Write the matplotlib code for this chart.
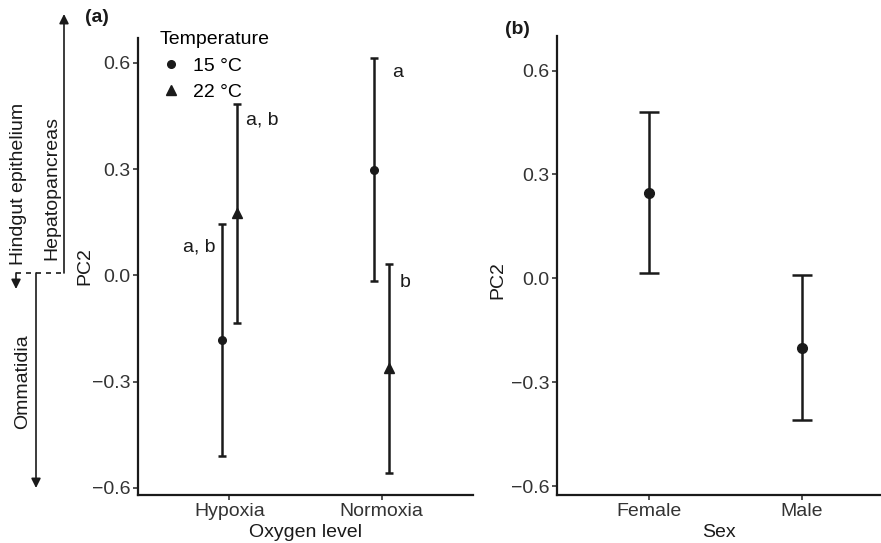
import numpy as np
import matplotlib.pyplot as plt
from matplotlib.lines import Line2D

plt.rcParams['font.family'] = ['Liberation Sans', 'DejaVu Sans']

# panel (a): PC2 by oxygen level and temperature
oxygen = ['Hypoxia', 'Normoxia']
temps = ['15 °C', '22 °C']
mean_15 = [-0.182, 0.298]
low_15 = [-0.510, -0.016]
high_15 = [0.145, 0.614]
mean_22 = [0.177, -0.261]
low_22 = [-0.134, -0.558]
high_22 = [0.484, 0.032]
letters = ['a, b', 'a, b', 'a', 'b']

# panel (b): PC2 by sex
sex = ['Female', 'Male']
mean_sex = [0.247, -0.200]
low_sex = [0.016, -0.410]
high_sex = [0.481, 0.010]

ink = '#1a1a1a'
fs = 14

fig = plt.figure(figsize=(8.81, 5.43), dpi=100)
ax1 = fig.add_axes([138 / 881, 1 - 495 / 543, (473 - 138) / 881, (495 - 38) / 543])
ax2 = fig.add_axes([557 / 881, 1 - 495 / 543, (881 - 557) / 881, (495 - 36) / 543])

x = np.arange(1, len(oxygen) + 1)
dodge = 0.05
for xs, m, lo, hi, mk, ms in [(x - dodge, mean_15, low_15, high_15, 'o', 5.5),
                              (x + dodge, mean_22, low_22, high_22, '^', 6.5)]:
    m = np.array(m)
    err = [m - np.array(lo), np.array(hi) - m]
    ax1.errorbar(xs, m, yerr=err, fmt=mk, color=ink, ms=ms, lw=1.8,
                 capsize=3, capthick=1.8)

# significance letters
ax1.text(1.112, 0.439, letters[0], fontsize=fs, ha='left', va='center', color=ink)
ax1.text(0.908, 0.080, letters[1], fontsize=fs, ha='right', va='center', color=ink)
ax1.text(2.072, 0.572, letters[2], fontsize=fs, ha='left', va='center', color=ink)
ax1.text(2.118, -0.021, letters[3], fontsize=fs, ha='left', va='center', color=ink)

ax1.set_xlim(0.4, 2.6)
ax1.set_ylim(-0.62, 0.67)
ax1.set_xticks(x)
ax1.set_xticklabels(oxygen)
ax1.set_xlabel('Oxygen level', fontsize=fs, color=ink, labelpad=3)
ax1.set_ylabel('PC2', fontsize=fs, color=ink)
ax1.yaxis.set_label_coords((93 - 138) / (473 - 138), 0.5)

# legend
handles = [Line2D([], [], marker='o', ls='none', color=ink, ms=5.5),
           Line2D([], [], marker='^', ls='none', color=ink, ms=6.5)]
leg = ax1.legend(handles, temps, title='Temperature', loc='upper left',
                 bbox_to_anchor=(0.03, 1.04), frameon=False, fontsize=fs,
                 title_fontsize=fs, handletextpad=0.5, labelspacing=0.45,
                 handlelength=1.2, borderaxespad=0, borderpad=0.6)
leg._legend_box.align = 'left'

ax2.errorbar(np.arange(1, 3), mean_sex,
             yerr=[np.array(mean_sex) - np.array(low_sex), np.array(high_sex) - np.array(mean_sex)],
             fmt='o', color=ink, ms=7, lw=1.8, capsize=7, capthick=1.8)
ax2.set_xlim(0.4, 2.52)
ax2.set_ylim(-0.626, 0.70)
ax2.set_xticks([1, 2])
ax2.set_xticklabels(sex)
ax2.set_xlabel('Sex', fontsize=fs, color=ink, labelpad=3)
ax2.set_ylabel('PC2', fontsize=fs, color=ink)
ax2.yaxis.set_label_coords((506 - 557) / (881 - 557), (495 - 280) / (495 - 36))

for ax in (ax1, ax2):
    ax.set_yticks([-0.6, -0.3, 0.0, 0.3, 0.6])
    ax.set_yticklabels(['\u22120.6', '\u22120.3', '0.0', '0.3', '0.6'])
    ax.spines['top'].set_visible(False)
    ax.spines['right'].set_visible(False)
    for s in ('left', 'bottom'):
        ax.spines[s].set_linewidth(1.6)
        ax.spines[s].set_color(ink)
    ax.tick_params(labelsize=fs, colors='#333333', length=3.5, width=1.2, pad=2)
    for lab in ax.get_xticklabels() + ax.get_yticklabels():
        lab.set_color('#333333')

fig.text(97 / 881, 1 - 18 / 543, '(a)', fontsize=14, fontweight='bold', ha='center', va='center', color=ink)
fig.text(517 / 881, 1 - 30 / 543, '(b)', fontsize=14, fontweight='bold', ha='center', va='center', color=ink)

# tissue direction arrows on the left
def fp(px, py):
    return (px, 543 - py)

arrow_kw = dict(xycoords='figure pixels', textcoords='figure pixels',
                arrowprops=dict(arrowstyle='-|>', color=ink, lw=1.2, mutation_scale=14,
                                shrinkA=0, shrinkB=0))
ax1.annotate('', xy=fp(64, 14), xytext=fp(64, 273), **arrow_kw)
ax1.annotate('', xy=fp(36, 488), xytext=fp(36, 273), **arrow_kw)
ax1.annotate('', xy=fp(16, 289), xytext=fp(16, 273), **arrow_kw)
fig.add_artist(Line2D([16 / 881, 64 / 881], [1 - 273 / 543, 1 - 273 / 543],
                      ls=(0, (3, 3)), lw=1.2, color=ink))

fig.text(19 / 881, 1 - 184 / 543, 'Hindgut epithelium', rotation=90, fontsize=fs,
         ha='center', va='center', color=ink)
fig.text(52 / 881, 1 - 188 / 543, 'Hepatopancreas', rotation=90, fontsize=fs,
         ha='center', va='center', color=ink)
fig.text(23 / 881, 1 - 382 / 543, 'Ommatidia', rotation=90, fontsize=fs,
         ha='center', va='center', color=ink)

fig.savefig('out.png', dpi=100)
